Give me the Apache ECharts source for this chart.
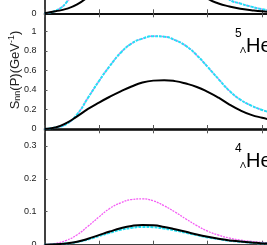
<!DOCTYPE html>
<html><head><meta charset="utf-8">
<script src="https://cdn.jsdelivr.net/npm/echarts@6/dist/echarts.min.js"></script>
<style>html,body{margin:0;padding:0;background:#fff}#c{width:267px;height:245px}</style>
</head><body><div id="c"></div>
<script>
const P = [0,0.02,0.04,0.06,0.08,0.10,0.12,0.14,0.16,0.18,0.20,0.22,0.24,0.26,0.28,0.30,0.32,0.34,0.36,0.38,0.40,0.42];
// top panel (only lower part visible)
const topBlack   = [0,0.02,0.045,0.09,0.17,0.28,0.40,0.50,0.57,0.61,0.62,0.59,0.50,0.37,0.24,0.15,0.10,0.07,0.047,0.032,0.02,0.013];
const topCyan    = [0,0.025,0.11,0.30,0.50,0.70,0.90,1.02,1.08,1.10,1.08,1.00,0.88,0.74,0.60,0.45,0.25,0.14,0.10,0.068,0.042,0.025];
const topMagenta = [0,0.025,0.11,0.30,0.50,0.70,0.90,1.02,1.08,1.10,1.08,1.00,0.88,0.74,0.60,0.45,0.25,0.14,0.10,0.068,0.042,0.025];
// middle panel: 5_Lambda He
const midBlack   = [0,0.015,0.06,0.13,0.205,0.27,0.33,0.385,0.435,0.475,0.495,0.50,0.49,0.465,0.43,0.38,0.32,0.25,0.19,0.145,0.115,0.09];
const midCyan    = [0,0.015,0.05,0.15,0.32,0.49,0.645,0.78,0.875,0.925,0.95,0.945,0.91,0.85,0.755,0.635,0.51,0.39,0.30,0.24,0.195,0.16];
const midMagenta = [0,0.015,0.05,0.15,0.32,0.49,0.645,0.78,0.875,0.925,0.95,0.945,0.91,0.85,0.755,0.635,0.51,0.39,0.30,0.24,0.195,0.16];
// bottom panel: 4_Lambda He
const botBlack   = [0,0.001,0.004,0.009,0.018,0.029,0.04,0.05,0.057,0.06,0.059,0.054,0.047,0.039,0.031,0.024,0.018,0.013,0.01,0.007,0.004,0.003];
const botCyan    = [0,0.001,0.004,0.008,0.016,0.026,0.036,0.045,0.051,0.054,0.053,0.049,0.043,0.036,0.029,0.022,0.017,0.012,0.009,0.006,0.004,0.003];
const botMagenta = [0,0.004,0.013,0.03,0.056,0.084,0.11,0.127,0.137,0.139,0.133,0.118,0.099,0.078,0.058,0.041,0.029,0.02,0.014,0.01,0.007,0.005];
const panelLabels = [{num:'5', y0:25}, {num:'4', y0:140}];
const yTitle = 'S{sub|nn}(P)(GeV{sup|-1})';

const pair = arr => P.map((p,i)=>[p,arr[i]]);
const FONT = 'Liberation Sans, Arial, sans-serif';
const chart = echarts.init(document.getElementById('c'), null, {renderer:'canvas'});

const gbase = {left:44.5, right:-49.5, containLabel:false, outerBoundsMode:'none'};
const grids = [
  Object.assign({top:-104.3, bottom:231.7}, gbase),
  Object.assign({top:13.3, bottom:116}, gbase),
  Object.assign({top:129.3, bottom:0.3}, gbase)
];
const xAxes = [];
grids.forEach((g,i)=>{
  ['bottom','top'].forEach(pos=>{
    xAxes.push({gridIndex:i, type:'value', position:pos, min:0, max:0.5, interval:0.1,
      axisLine:{show:true, onZero:false, lineStyle:{color:'#000', width:1.5}},
      axisTick:{show:true, inside:true, length:4, lineStyle:{color:'#555', width:1}},
      axisLabel:{show:false}, splitLine:{show:false}});
  });
});
const yAxisBase = (i, max, interval) => ({gridIndex:i, type:'value', min:0, max:max, interval:interval,
  axisLine:{show:true, lineStyle:{color:'#000', width:1.5}},
  axisTick:{show:true, inside:true, length:3, lineStyle:{color:'#555', width:1}},
  axisLabel:{show:true, showMaxLabel:false, margin:8, fontSize:9, color:'#222', fontFamily:FONT,
    formatter: v => String(+v.toFixed(2))},
  splitLine:{show:false}});
const yAxes = [yAxisBase(0, 1.2, 0.2), yAxisBase(1, 1.184, 0.2), yAxisBase(2, 0.35, 0.1)];
const series = [];
const sets = [[topCyan,topMagenta,topBlack],[midCyan,midMagenta,midBlack],[botCyan,botMagenta,botBlack]];
sets.forEach((s,i)=>{
  series.push({type:'line', xAxisIndex:2*i, yAxisIndex:i, data:pair(s[1]), smooth:0.5, showSymbol:false, clip:true,
    lineStyle:{color:'#f45cf4', width:1.3, type:[2,1]}, z:2});
  series.push({type:'line', xAxisIndex:2*i, yAxisIndex:i, data:pair(s[0]), smooth:0.5, showSymbol:false, clip:true,
    lineStyle:{color:'#22e2f5', width:2, type:[3,1]}, z:3});
  series.push({type:'line', xAxisIndex:2*i, yAxisIndex:i, data:pair(s[2]), smooth:0.5, showSymbol:false, clip:true,
    lineStyle:{color:'#000', width:2}, z:4});
});
const graphic = [{
  type:'text', x:15, y:70, rotation:Math.PI/2, z:10,
  style:{text:yTitle, font:'13px '+FONT, fill:'#222', align:'center', verticalAlign:'middle',
    rich:{sub:{fontSize:9, fontFamily:FONT, fill:'#222', verticalAlign:'bottom', padding:[6,0,0,0]},
          sup:{fontSize:9, fontFamily:FONT, fill:'#222', verticalAlign:'top', padding:[0,0,6,0]}}}
}];
panelLabels.forEach(l=>{
  graphic.push({type:'text', left:235, top:l.y0+3, z:10, style:{text:l.num, font:'12px '+FONT, fill:'#000'}});
  graphic.push({type:'text', left:240, top:l.y0+21, z:10, style:{text:'Λ', font:'9px '+FONT, fill:'#000'}});
  graphic.push({type:'text', left:246, top:l.y0+11, z:10, style:{text:'He', font:'20px '+FONT, fill:'#000'}});
});
chart.setOption({animation:false, backgroundColor:'#fff', grid:grids, xAxis:xAxes, yAxis:yAxes, series:series, graphic:graphic});
</script></body></html>
